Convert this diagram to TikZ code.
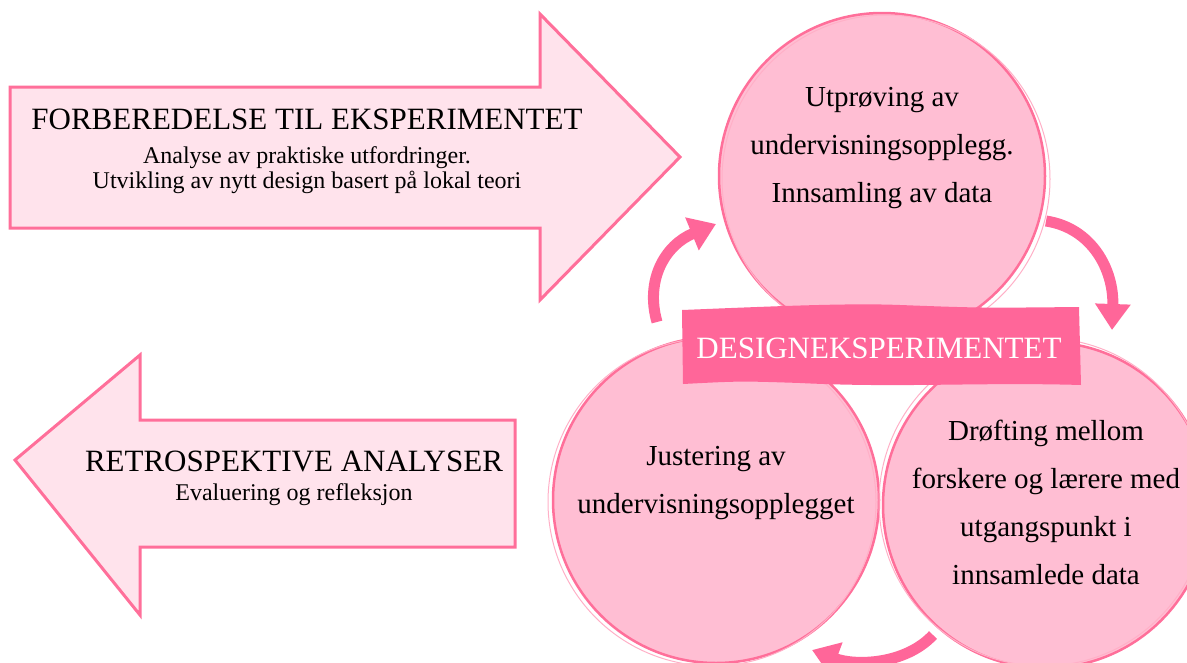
\documentclass[tikz,border=0pt]{standalone}
\usepackage{fontspec}
\setmainfont{Liberation Serif}
\usetikzlibrary{positioning,arrows.meta}
\definecolor{pinkline}{HTML}{FF6F9A}
\definecolor{pinkfill}{HTML}{FFE3EC}
\definecolor{circfill}{HTML}{FFBED3}
\definecolor{hotpink}{HTML}{FF6699}

\begin{document}
\begin{tikzpicture}
[x=1pt,y=-1pt,
 bigarrow/.style={draw=pinkline,fill=pinkfill,line width=3pt,line join=miter},
 phase/.style={circle,draw=pinkline,fill=circfill,line width=2.5pt,minimum size=326pt,inner sep=0pt},
 sketch/.style={draw=pinkline!55,line width=1pt},
 phasetext/.style={align=center,font=\fontsize{29}{48}\selectfont},
 headtext/.style={font=\fontsize{31}{34}\selectfont,inner sep=0pt},
 subtext/.style={align=center,font=\fontsize{24}{25}\selectfont,inner sep=0pt},
 cycle/.style={-{Triangle[length=26pt,width=34pt]},line width=11pt,draw=hotpink}]
\useasboundingbox (0,0) rectangle (1187,662);

% big arrows
\draw [bigarrow] (10,87) -- (540,87) -- (540,14) -- (680,157) -- (540,300)
  -- (540,228) -- (10,228) -- cycle;
\draw [bigarrow] (515,420) -- (140,420) -- (140,355) -- (15,460) -- (140,615)
  -- (140,547) -- (515,547) -- cycle;

% arrow texts
\node [headtext] (prep) at (307,119) {FORBEREDELSE TIL EKSPERIMENTET};
\node [subtext, below=17pt of prep] (prepsub) {Analyse av praktiske utfordringer.\\
  Utvikling av nytt design basert på lokal teori};
\node [headtext] (retro) at (294,461) {RETROSPEKTIVE ANALYSER};
\node [subtext, below=12pt of retro] (retrosub) {Evaluering og refleksjon};

% circles
\node [phase] (test) at (882,176) {};
\draw [sketch] ([shift={(4,3)}]test.center) circle (164);
\node [phase] (adjust) at (716,500) {};
\draw [sketch] ([shift={(-4,2)}]adjust.center) circle (164);
\node [phase] (discuss) at (1046,505) {};
\draw [sketch] ([shift={(-3,-3)}]discuss.center) circle (164);

% circle texts
\node [phasetext] (testtxt) at ([yshift=28pt]test.center)
  {Utprøving av\\ undervisningsopplegg.\\ Innsamling av data};
\node [phasetext] (adjusttxt) at ([yshift=17pt]adjust.center)
  {Justering av\\ undervisningsopplegget};
\node [phasetext] (discusstxt) at ([yshift=3pt]discuss.center)
  {Drøfting mellom\\ forskere og lærere med\\ utgangspunkt i\\ innsamlede data};

% banner
\fill [hotpink] (682,310) .. controls (780,306) and (850,303) .. (900,305)
  .. controls (980,308) .. (1079,307) -- (1081,385)
  .. controls (980,382) and (900,388) .. (800,383) .. controls (740,381) .. (683,384) -- cycle;
\node [text=white, font=\fontsize{31}{34}\selectfont] (design) at (879,348) {DESIGNEKSPERIMENTET};

% cycle arrows
\coordinate (c1) at (657,322);
\coordinate (c2) at (716,224);
\coordinate (c3) at (1046,221);
\coordinate (c4) at (1112,330);
\coordinate (c5) at (933,635);
\coordinate (c6) at (812,650);
\draw [cycle] (c1) .. controls (645,280) and (665,245) .. (c2);
\draw [cycle] (c3) .. controls (1092,228) and (1114,270) .. (c4);
\draw [cycle] (c5) .. controls (905,665) and (855,666) .. (c6);

\end{tikzpicture}
\end{document}
